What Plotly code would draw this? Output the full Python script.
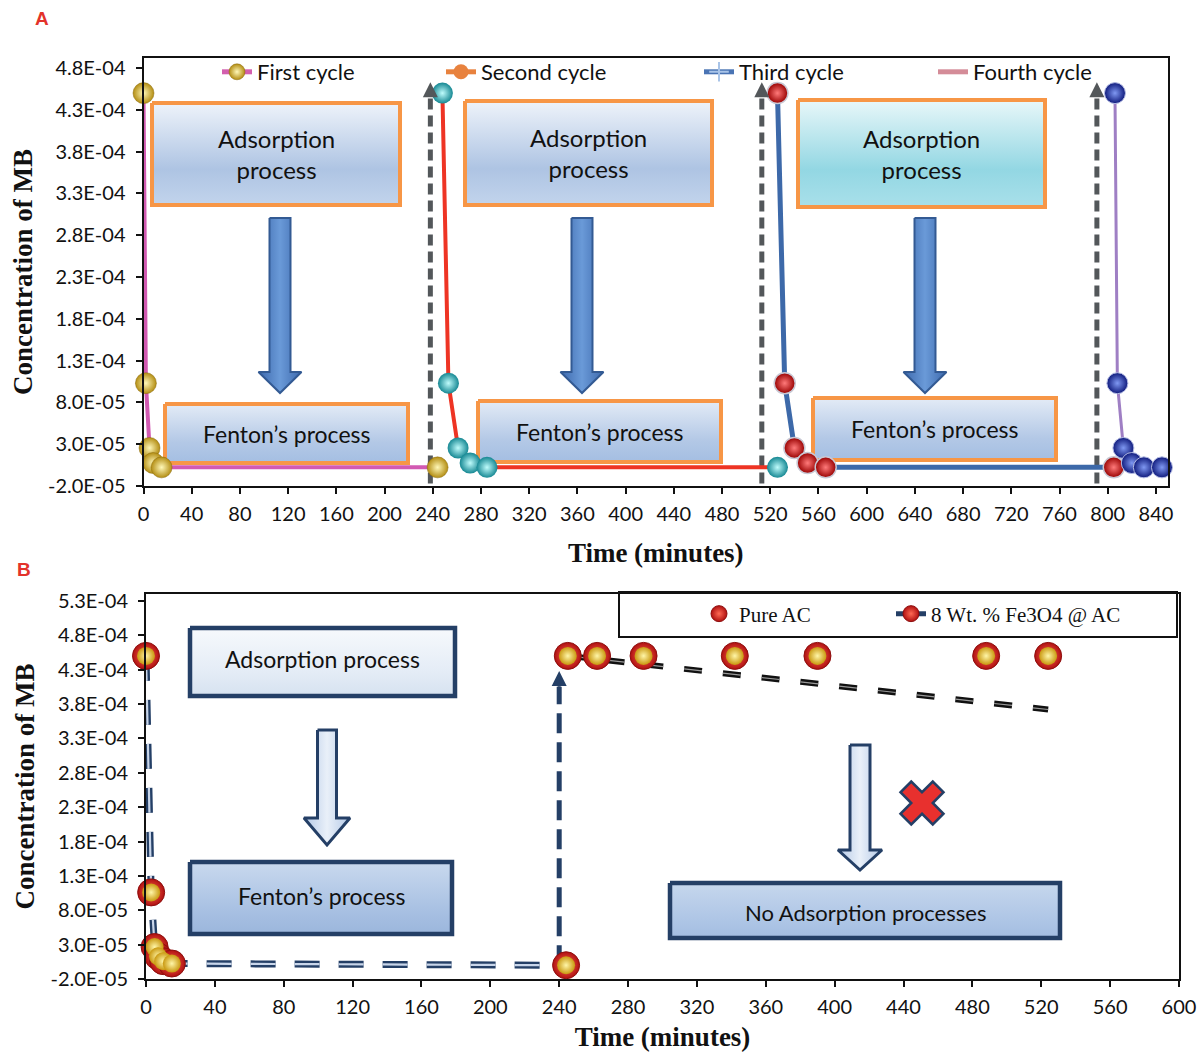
import plotly.graph_objects as go

W, H = 1200, 1052

# ------------------------------------------------------------------ data
# Panel A : four adsorption / Fenton cycles (time in minutes, concentration of MB)
cycle1_time = [0, 2, 5, 8, 15, 244]
cycle1_conc = [4.50e-4, 1.03e-4, 2.55e-5, 7.5e-6, 2.3e-6, 2.3e-6]
cycle2_time = [248, 253, 261, 271, 285, 526]
cycle2_conc = [4.50e-4, 1.03e-4, 2.55e-5, 7.5e-6, 2.3e-6, 2.3e-6]
cycle3_time = [526, 532, 540, 551, 566, 805]
cycle3_conc = [4.50e-4, 1.03e-4, 2.55e-5, 7.5e-6, 2.3e-6, 2.3e-6]
cycle4_time = [806, 808, 813, 820, 830, 845]
cycle4_conc = [4.50e-4, 1.03e-4, 2.55e-5, 7.5e-6, 2.3e-6, 2.3e-6]
cycle_names = ["First cycle", "Second cycle", "Third cycle", "Fourth cycle"]
restart_time_a = [238, 513, 791]
restart_span_a = [-1.7e-5, 4.46e-4, 4.63e-4]   # dashed base, dashed top, arrow tip

a_xtick_vals = [0, 40, 80, 120, 160, 200, 240, 280, 320, 360, 400, 440, 480, 520,
                560, 600, 640, 680, 720, 760, 800, 840]
a_ytick_vals = [-2.0e-5, 3.0e-5, 8.0e-5, 1.3e-4, 1.8e-4, 2.3e-4, 2.8e-4, 3.3e-4,
                3.8e-4, 4.3e-4, 4.8e-4]
a_ytick_text = ["-2.0E-05", "3.0E-05", "8.0E-05", "1.3E-04", "1.8E-04", "2.3E-04",
                "2.8E-04", "3.3E-04", "3.8E-04", "4.3E-04", "4.8E-04"]

# Panel B : Fe3O4@AC reuse vs pure AC
fe_time = [0, 3, 5, 7, 10, 15, 244]
fe_conc = [4.50e-4, 1.06e-4, 2.65e-5, 1.3e-5, 6.0e-6, 2.5e-6, 0.0]
pure_time = [245, 262, 289, 342, 390, 488, 524]
pure_conc = [4.50e-4, 4.50e-4, 4.50e-4, 4.50e-4, 4.50e-4, 4.50e-4, 4.50e-4]
trend_time = [245, 524]
trend_conc = [4.50e-4, 3.72e-4]
restart_time_b = 240
restart_span_b = [0.0, 4.05e-4, 4.28e-4]

b_xtick_vals = [0, 40, 80, 120, 160, 200, 240, 280, 320, 360, 400, 440, 480, 520, 560, 600]
b_ytick_vals = [-2.0e-5, 3.0e-5, 8.0e-5, 1.3e-4, 1.8e-4, 2.3e-4, 2.8e-4, 3.3e-4,
                3.8e-4, 4.3e-4, 4.8e-4, 5.3e-4]
b_ytick_text = ["-2.0E-05", "3.0E-05", "8.0E-05", "1.3E-04", "1.8E-04", "2.3E-04",
                "2.8E-04", "3.3E-04", "3.8E-04", "4.3E-04", "4.8E-04", "5.3E-04"]

# ------------------------------------------------------------------ styles
SANS = "Lato"
SERIF = "Liberation Serif"
ORANGE = "#f79646"
NAVY = "#243f66"
GREY = "#53575a"

gold_ball = dict(size=21, color="#b38d12", gradient=dict(type="radial", color="#fff8b8"),
                 line=dict(width=0.5, color="#8a6a0c"))
cyan_ball = dict(size=21, color="#168893", gradient=dict(type="radial", color="#bffcfc"),
                 line=dict(width=0))
red_ball = dict(size=21, color="#980000", gradient=dict(type="radial", color="#ff7a7a"),
                line=dict(width=1.5, color="#c8c8d4"))
navy_ball = dict(size=21, color="#0f1a7c", gradient=dict(type="radial", color="#7f98f2"),
                 line=dict(width=1, color="#b4bce4"))
b_ball_outer = dict(size=27, color="#b01010", gradient=dict(type="radial", color="#ff6a55"),
                    line=dict(width=1, color="#8e0f0f"))
b_ball_inner = dict(size=18, color="#c9980f", gradient=dict(type="radial", color="#fff6a8"),
                    line=dict(width=0))

fig = go.Figure()

# ------------------------------------------------------------------ decorations (pixel overlay axes x/y)
def box(x0, y0, x1, y1, c_top, c_mid, c_bot, border, bw):
    fig.add_trace(go.Scatter(
        x=[x0, x1, x1, x0, x0], y=[y0, y0, y1, y1, y0], xaxis="x", yaxis="y",
        mode="lines", fill="toself", line=dict(color=border, width=bw),
        fillgradient=dict(type="vertical",
                          colorscale=[[0, c_bot], [0.35, c_mid], [1, c_top]]),
        hoverinfo="skip", showlegend=False))

def down_arrow(cx, y0, yh, yt, hw, hh, c_edge, c_mid, border, bw):
    xs = [cx - hw, cx + hw, cx + hw, cx + hh, cx, cx - hh, cx - hw, cx - hw]
    ys = [y0, y0, yh, yh, yt, yh, yh, y0]
    fig.add_trace(go.Scatter(
        x=xs, y=ys, xaxis="x", yaxis="y", mode="lines", fill="toself",
        line=dict(color=border, width=bw),
        fillgradient=dict(type="horizontal",
                          colorscale=[[0, c_edge], [0.5, c_mid], [1, c_edge]]),
        hoverinfo="skip", showlegend=False))

# Panel A boxes
a_ads_boxes = [(152, 103, 400, 205), (465, 101, 712, 205), (798, 100, 1045, 207)]
a_ads_cols = [("#eef3fa", "#aec4e3", "#c2d4ec"), ("#eef3fa", "#aec4e3", "#c2d4ec"),
              ("#e8f7f9", "#93d7e3", "#a9e0ea")]
for (bx0, by0, bx1, by1), (c0, c1, c2) in zip(a_ads_boxes, a_ads_cols):
    box(bx0, by0, bx1, by1, c0, c1, c2, ORANGE, 4)
a_fen_boxes = [(165, 404, 408, 463), (478, 401, 721, 462), (813, 398, 1056, 460)]
for bx0, by0, bx1, by1 in a_fen_boxes:
    box(bx0, by0, bx1, by1, "#e3ebf6", "#b3c8e6", "#a4bee2", ORANGE, 4)
for cx in [280, 582, 925]:
    down_arrow(cx, 218, 372, 393, 10.5, 21.5, "#3d69ad", "#6a9ad8", "#335a93", 2)

# Panel B boxes
box(190, 628, 455, 696, "#f6f9fc", "#e4ecf6", "#d6e2f0", NAVY, 4.5)
box(190, 862, 452, 934, "#c9d9ee", "#a9c1e3", "#9bb6dc", NAVY, 4.5)
box(670, 883, 1060, 938, "#c6d7ed", "#afc6e6", "#a3bde1", NAVY, 4.5)
down_arrow(327, 730, 818, 845, 9.5, 23, "#b3c8e6", "#e9f0f9", NAVY, 3)
down_arrow(860, 745, 850, 870, 10, 22, "#b3c8e6", "#e9f0f9", NAVY, 3)
fig.add_trace(go.Scatter(x=[922], y=[803], xaxis="x", yaxis="y", mode="markers",
                         marker=dict(symbol="x", size=38, color="#e8302e",
                                     line=dict(color=NAVY, width=2.5)),
                         hoverinfo="skip", showlegend=False))

# ------------------------------------------------------------------ panel A data
for t in restart_time_a:
    fig.add_trace(go.Scatter(x=[t, t], y=restart_span_a[:2], xaxis="x2", yaxis="y2",
                             mode="lines", line=dict(color=GREY, width=5, dash="11px,6px"),
                             hoverinfo="skip", showlegend=False))

series_a = [
    (cycle1_time, cycle1_conc, "#d25ab2", 4, gold_ball),
    (cycle2_time, cycle2_conc, "#ee3424", 4, cyan_ball),
    (cycle3_time, cycle3_conc, "#3d69a9", 5, red_ball),
    (cycle4_time, cycle4_conc, "#9f7fc4", 3, navy_ball),
]
for (tt, cc, lc, lw, mk), name in zip(series_a, cycle_names):
    fig.add_trace(go.Scatter(x=tt, y=cc, xaxis="x2", yaxis="y2", mode="lines+markers",
                             name=name, line=dict(color=lc, width=lw), marker=mk,
                             cliponaxis=False, showlegend=False))

# legend entries for panel A (style as in the original legend), one legend each
legend_a_styles = [
    dict(line=dict(color="#d35fae", width=5), marker=dict(gold_ball, size=16), mode="lines+markers"),
    dict(line=dict(color="#e8823e", width=5), marker=dict(size=15, color="#e8823e"), mode="lines+markers"),
    dict(line=dict(color="#4a74b4", width=5),
         marker=dict(symbol="cross-thin", size=14, line=dict(color="#a9c4e8", width=2)),
         mode="lines+markers"),
    dict(line=dict(color="#d48c98", width=5), mode="lines"),
]
legend_a_ids = ["legend", "legend2", "legend3", "legend4"]
for name, st, lid in zip(cycle_names, legend_a_styles, legend_a_ids):
    fig.add_trace(go.Scatter(x=[None], y=[None], xaxis="x2", yaxis="y2", name=name,
                             legend=lid, showlegend=True, **st))

# ------------------------------------------------------------------ panel B data
fig.add_trace(go.Scatter(x=fe_time, y=fe_conc, xaxis="x3", yaxis="y3", mode="lines",
                         line=dict(color=NAVY, width=7, dash="25px,19px"),
                         cliponaxis=False, hoverinfo="skip", showlegend=False))
fig.add_trace(go.Scatter(x=fe_time, y=fe_conc, xaxis="x3", yaxis="y3", mode="lines",
                         line=dict(color="#c9d6ea", width=2.2, dash="25px,19px"),
                         cliponaxis=False, hoverinfo="skip", showlegend=False))
fig.add_trace(go.Scatter(x=[restart_time_b, restart_time_b], y=restart_span_b[:2],
                         xaxis="x3", yaxis="y3", mode="lines",
                         line=dict(color=NAVY, width=5, dash="20px,9px"),
                         hoverinfo="skip", showlegend=False))
fig.add_trace(go.Scatter(x=trend_time, y=trend_conc, xaxis="x3", yaxis="y3", mode="lines",
                         line=dict(color="#111111", width=6, dash="18px,21px"),
                         hoverinfo="skip", showlegend=False))
fig.add_trace(go.Scatter(x=trend_time, y=trend_conc, xaxis="x3", yaxis="y3", mode="lines",
                         line=dict(color="#9a9a9a", width=1.2, dash="18px,21px"),
                         hoverinfo="skip", showlegend=False))
# Fe3O4@AC balls (red shell + gold core)
fig.add_trace(go.Scatter(x=fe_time, y=fe_conc, xaxis="x3", yaxis="y3", mode="markers",
                         name="8 Wt. % Fe3O4 @ AC", marker=b_ball_outer, cliponaxis=False,
                         showlegend=False))
fig.add_trace(go.Scatter(x=fe_time, y=fe_conc, xaxis="x3", yaxis="y3", mode="markers",
                         marker=b_ball_inner, cliponaxis=False, hoverinfo="skip",
                         showlegend=False))
# Pure AC balls
fig.add_trace(go.Scatter(x=pure_time, y=pure_conc, xaxis="x3", yaxis="y3", mode="markers",
                         name="Pure AC", marker=b_ball_outer, cliponaxis=False,
                         legend="legend5", showlegend=True))
fig.add_trace(go.Scatter(x=pure_time, y=pure_conc, xaxis="x3", yaxis="y3", mode="markers",
                         marker=b_ball_inner, cliponaxis=False, hoverinfo="skip",
                         showlegend=False))
fig.add_trace(go.Scatter(x=[None], y=[None], xaxis="x3", yaxis="y3", mode="lines+markers",
                         name="8 Wt. % Fe3O4 @ AC", line=dict(color=NAVY, width=5),
                         marker=dict(b_ball_outer, size=16), legend="legend6", showlegend=True))

# ------------------------------------------------------------------ annotations
ann = []
for t in restart_time_a:
    ann.append(dict(x=t, y=restart_span_a[2], ax=t, ay=restart_span_a[2] - 1.2e-5,
                    xref="x2", yref="y2", axref="x2", ayref="y2", text="",
                    showarrow=True, arrowhead=2, arrowsize=1, arrowwidth=3,
                    arrowcolor=GREY))
ann.append(dict(x=restart_time_b, y=restart_span_b[2], ax=restart_time_b,
                ay=restart_span_b[2] - 2.5e-5, xref="x3", yref="y3", axref="x3", ayref="y3",
                text="", showarrow=True, arrowhead=2, arrowsize=1, arrowwidth=3,
                arrowcolor=NAVY))

def label(x, y, text, size, family=SANS, color="#111111", bold=False):
    ann.append(dict(x=x, y=y, xref="x", yref="y", text=text, showarrow=False,
                    font=dict(family=family, size=size, color=color,
                              weight="bold" if bold else "normal"),
                    xanchor="center", yanchor="middle"))

for (bx0, by0, bx1, by1) in a_ads_boxes:
    label((bx0 + bx1) / 2, (by0 + by1) / 2, "Adsorption<br>process", 24)
for (bx0, by0, bx1, by1) in a_fen_boxes:
    label((bx0 + bx1) / 2, (by0 + by1) / 2, "Fenton’s process", 23)
label(322, 659, "Adsorption process", 23)
label(321, 896, "Fenton’s process", 23)
label(865, 912, "No Adsorption processes", 22)
label(42, 18, "A", 19, family="Liberation Sans", color="#e3332a", bold=True)
label(24, 569, "B", 19, family="Liberation Sans", color="#e3332a", bold=True)

# ------------------------------------------------------------------ layout
tickfont = dict(family=SANS, size=20, color="#111111")
titlefont = dict(family=SERIF, size=27, color="#111111", weight="bold")

def data_axis(domain, rng, anchor):
    return dict(domain=domain, range=rng, anchor=anchor, showline=True, linewidth=2,
                linecolor="#111111", mirror=True, ticks="outside", ticklen=6,
                tickwidth=2, tickcolor="#111111", showgrid=False, zeroline=False,
                tickfont=tickfont, automargin=False, fixedrange=True)

xa2 = data_axis([143.5 / W, 1168 / W], [0, 850], "y2")
xa2.update(tickvals=a_xtick_vals, ticklabelstandoff=3,
           title=dict(text="Time (minutes)", font=titlefont, standoff=19))
ya2 = data_axis([1 - 486 / H, 1 - 58 / H], [-2.0e-5, 4.92e-4], "x2")
ya2.update(tickvals=a_ytick_vals, ticktext=a_ytick_text, ticklabelstandoff=6,
           title=dict(text="Concentration of MB", font=titlefont, standoff=8))
xa3 = data_axis([146 / W, 1179 / W], [0, 600], "y3")
xa3.update(tickvals=b_xtick_vals, ticklabelstandoff=3, ticklabeloverflow="allow",
           title=dict(text="Time (minutes)", font=titlefont, standoff=16))
ya3 = data_axis([1 - 979 / H, 1 - 594 / H], [-2.0e-5, 5.40e-4], "x3")
ya3.update(tickvals=b_ytick_vals, ticktext=b_ytick_text, ticklabelstandoff=6,
           title=dict(text="Concentration of MB", font=titlefont, standoff=8))

overlay_x = dict(domain=[0, 1], range=[0, W], visible=False, fixedrange=True, anchor="y")
overlay_y = dict(domain=[0, 1], range=[H, 0], visible=False, fixedrange=True, anchor="x")

def single_legend(text_left_px, y_px, family, size):
    # item symbol occupies 40 px before the text
    return dict(orientation="v", x=(text_left_px - 40) / W, y=1 - y_px / H,
                xanchor="left", yanchor="middle", bgcolor="rgba(0,0,0,0)",
                borderwidth=0, font=dict(family=family, size=size, color="#111111"),
                itemsizing="trace")

fig.update_layout(
    width=W, height=H,
    margin=dict(l=0, r=0, t=0, b=0, pad=0),
    paper_bgcolor="white", plot_bgcolor="rgba(0,0,0,0)",
    xaxis=overlay_x, yaxis=overlay_y,
    xaxis2=xa2, yaxis2=ya2, xaxis3=xa3, yaxis3=ya3,
    shapes=[dict(type="rect", xref="x", yref="y", x0=619, x1=1177, y0=592, y1=637,
                 line=dict(color="#111111", width=2), fillcolor="white", layer="below")],
    legend=single_legend(257, 72, SANS, 22),
    legend2=single_legend(481, 72, SANS, 22),
    legend3=single_legend(739, 72, SANS, 22),
    legend4=single_legend(973, 72, SANS, 22),
    legend5=single_legend(739, 614, SERIF, 21),
    legend6=single_legend(931, 614, SERIF, 21),
    annotations=ann,
    showlegend=True,
)

fig.write_html("out.html",
               config={"displayModeBar": False},
               post_script="document.body.style.margin='0px';"
                           "document.body.style.overflow='hidden';"
                           "document.documentElement.style.overflow='hidden';")
